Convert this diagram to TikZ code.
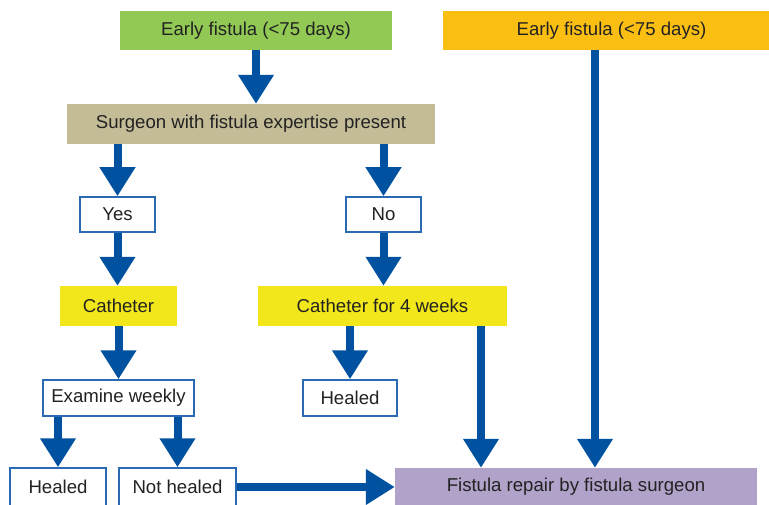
\documentclass[tikz,border=0pt]{standalone}
\usepackage{fontspec}
\setmainfont{Liberation Sans}
\usetikzlibrary{shapes,arrows.meta}
\definecolor{flowblue}{HTML}{0052A0}
\definecolor{boxblue}{HTML}{2A6AB2}
\definecolor{earlygreen}{HTML}{92C955}
\definecolor{earlyorange}{HTML}{FBBF14}
\definecolor{surgeontan}{HTML}{C4BC97}
\definecolor{cathyellow}{HTML}{F1E71A}
\definecolor{repairpurple}{HTML}{B0A2C8}
\definecolor{textgrey}{HTML}{222222}
\tikzstyle{block} = [rectangle, inner sep=0pt, text=textgrey, font=\fontsize{18.6}{21}\selectfont]
\tikzstyle{answer} = [block, draw=boxblue, line width=1.5pt, fill=white]
\tikzstyle{line} = [draw=flowblue, line width=8pt, -{Triangle[width=34pt,length=29pt]}]

\begin{document}
\begin{tikzpicture}[x=1pt,y=-1pt]
   \useasboundingbox (0,0) rectangle (769,505);
   \clip (0,0) rectangle (769,505);
   \node[block, fill=earlygreen, minimum width=272pt, minimum height=39pt] (early) at (256,30.5) {Early fistula (<75 days)};
   \node[block, fill=earlyorange, minimum width=337pt, minimum height=39pt] (late) at (611.5,30.5) {Early fistula (<75 days)};
   \node[block, fill=surgeontan, minimum width=368pt, minimum height=40pt] (surgeon) at (251,124) {Surgeon with fistula expertise present};
   \node[answer, minimum width=75pt, minimum height=35pt] (yes) at (117.5,214.5) {Yes};
   \node[answer, minimum width=75pt, minimum height=35pt] (no) at (383.5,214.5) {No};
   \node[block, fill=cathyellow, minimum width=117pt, minimum height=40pt] (cath) at (118.5,306) {Catheter};
   \node[block, fill=cathyellow, minimum width=249pt, minimum height=40pt] (cathfour) at (382.5,306) {Catheter for 4 weeks};
   \node[answer, minimum width=151pt, minimum height=36pt] (examine) at (118.5,398) {Examine weekly};
   \node[answer, minimum width=94pt, minimum height=36pt] (healedb) at (350,398) {Healed};
   \node[answer, minimum width=96pt, minimum height=38pt] (healeda) at (58,487) {Healed};
   \node[answer, minimum width=117pt, minimum height=38pt] (nothealed) at (177.5,487) {Not healed};
   \node[block, fill=repairpurple, minimum width=362pt, minimum height=38pt] (repair) at (576,487) {Fistula repair by fistula surgeon};
   \coordinate (cathfourout) at (481,0);
   \coordinate (lateout) at (595,0);
   \draw[line] (early.south) -- (early.south |- surgeon.north);
   \draw[line] (yes |- surgeon.south) -- (yes.north);
   \draw[line] (no |- surgeon.south) -- (no.north);
   \draw[line] (yes.south) -- (cath.north -| yes);
   \draw[line] (no.south) -- (cathfour.north -| no);
   \draw[line] (cath.south) -- (examine.north);
   \draw[line] (healedb |- cathfour.south) -- (healedb.north);
   \draw[line] (cathfourout |- cathfour.south) -- (cathfourout |- repair.north);
   \draw[line] (lateout |- late.south) -- (lateout |- repair.north);
   \draw[line] (healeda |- examine.south) -- (healeda.north);
   \draw[line] (nothealed |- examine.south) -- (nothealed.north);
   \draw[line] (nothealed.east) -- (repair.west);
\end{tikzpicture}
\end{document}
